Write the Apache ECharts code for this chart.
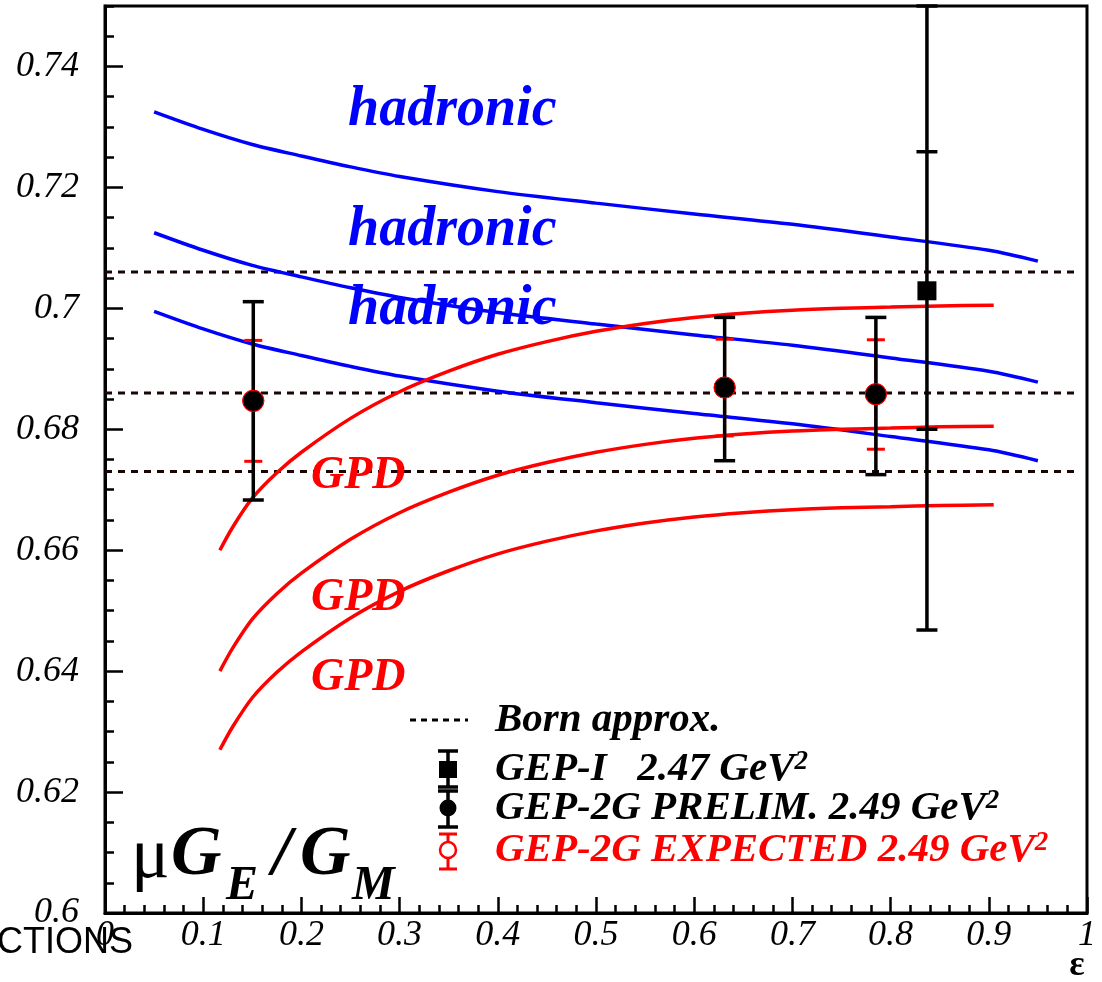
<!DOCTYPE html>
<html>
<head>
<meta charset="utf-8">
<script src="https://cdn.jsdelivr.net/npm/echarts@6/dist/echarts.min.js"></script>
<style>html,body{margin:0;padding:0;background:#fff;}#c{width:1102px;height:982px;}</style>
</head>
<body>
<div id="c"></div>
<script>
// ---- data ----
const epsHad = [0.05, 0.1, 0.15, 0.2, 0.25, 0.3, 0.4, 0.5, 0.6, 0.7, 0.8, 0.9, 0.95];
const hadTop = [0.7325, 0.7296, 0.7271, 0.7252, 0.7234, 0.7218, 0.7193, 0.7174, 0.7156, 0.7139, 0.7118, 0.7096, 0.7078];
const hadMid = [0.7125, 0.7096, 0.7071, 0.7052, 0.7034, 0.7018, 0.6993, 0.6974, 0.6956, 0.6939, 0.6918, 0.6896, 0.6878];
const hadLow = [0.6995, 0.6966, 0.6941, 0.6922, 0.6904, 0.6888, 0.6863, 0.6844, 0.6826, 0.6809, 0.6788, 0.6766, 0.6748];

const epsGpd = [0.117, 0.13, 0.15, 0.175, 0.2, 0.25, 0.3, 0.35, 0.4, 0.45, 0.5, 0.55, 0.6, 0.65, 0.7, 0.75, 0.8, 0.85, 0.905];
const gpdTop = [0.6600, 0.6638, 0.6686, 0.6728, 0.6762, 0.6818, 0.6862, 0.6896, 0.6924, 0.6945, 0.6962, 0.6975, 0.6985, 0.6992, 0.6997, 0.7000, 0.7002, 0.7004, 0.7005];
const gpdMid = [0.6400, 0.6438, 0.6486, 0.6528, 0.6562, 0.6618, 0.6662, 0.6696, 0.6724, 0.6745, 0.6762, 0.6775, 0.6785, 0.6792, 0.6797, 0.6800, 0.6802, 0.6804, 0.6805];
const gpdLow = [0.6270, 0.6308, 0.6356, 0.6398, 0.6432, 0.6488, 0.6532, 0.6566, 0.6594, 0.6615, 0.6632, 0.6645, 0.6655, 0.6662, 0.6667, 0.6670, 0.6672, 0.6674, 0.6675];

const bornVals = [0.706, 0.686, 0.673];
const bornEps = [0.0, 0.99];

const prelimEps = [0.151, 0.631, 0.785];
const prelimVal = [0.6847, 0.6869, 0.6858];
const prelimLo  = [0.6683, 0.6748, 0.6725];
const prelimHi  = [0.7011, 0.6985, 0.6985];
const expLo     = [0.6747, 0.6789, 0.6767];
const expHi     = [0.6947, 0.6949, 0.6948];

const gep1Eps    = [0.837];
const gep1Val    = [0.7029];
const gep1StatLo = [0.6800];
const gep1StatHi = [0.7259];
const gep1TotLo  = [0.6468];
const gep1TotHi  = [0.7590];

const xTicks = [0, 0.1, 0.2, 0.3, 0.4, 0.5, 0.6, 0.7, 0.8, 0.9, 1];
const yTicks = [0.6, 0.62, 0.64, 0.66, 0.68, 0.7, 0.72, 0.74];

const curveLabels = [
  {text: 'hadronic', x: 348, y: 111, color: '#0000ff', size: 56},
  {text: 'hadronic', x: 348, y: 231, color: '#0000ff', size: 56},
  {text: 'hadronic', x: 348, y: 310, color: '#0000ff', size: 56},
  {text: 'GPD', x: 311, y: 476, color: '#ff0000', size: 46},
  {text: 'GPD', x: 311, y: 598, color: '#ff0000', size: 46},
  {text: 'GPD', x: 311, y: 678, color: '#ff0000', size: 46}
];

// ---- helpers ----
const SERIF = '"Liberation Serif", "DejaVu Serif", serif';
const zip = (xs, ys) => xs.map((x, i) => [x, ys[i]]);

function lineSeries(xs, ys, color) {
  return {type: 'line', data: zip(xs, ys), showSymbol: false, smooth: 0.3,
    lineStyle: {color: color, width: 3.5}, z: 3, silent: true};
}

function errRender(capW, color, lw) {
  return function (params, api) {
    const x = api.value(0);
    const cs = params.coordSys;
    const top = cs.y, bot = cs.y + cs.height;
    const clampY = v => Math.max(top, Math.min(bot, v));
    const vals = [];
    for (let k = 1; k < 10; k++) {
      const v = api.value(k);
      if (v === undefined || v === null || isNaN(v)) break;
      vals.push(v);
    }
    const pts = vals.map(v => api.coord([x, v]));
    const ys = pts.map(p => clampY(p[1]));
    const px = pts[0][0];
    const children = [{type: 'line', shape: {x1: px, y1: Math.min(...ys), x2: px, y2: Math.max(...ys)},
      style: {stroke: color, lineWidth: lw}}];
    ys.forEach(y => children.push({type: 'line', shape: {x1: px - capW / 2, y1: y, x2: px + capW / 2, y2: y},
      style: {stroke: color, lineWidth: lw}}));
    return {type: 'group', children: children};
  };
}

const series = [];
series.push(lineSeries(epsHad, hadTop, '#0000ff'));
series.push(lineSeries(epsHad, hadMid, '#0000ff'));
series.push(lineSeries(epsHad, hadLow, '#0000ff'));
series.push(lineSeries(epsGpd, gpdTop, '#ff0000'));
series.push(lineSeries(epsGpd, gpdMid, '#ff0000'));
series.push(lineSeries(epsGpd, gpdLow, '#ff0000'));
bornVals.forEach(v => series.push({type: 'line', data: bornEps.map(e => [e, v]), showSymbol: false,
  lineStyle: {color: '#1a0505', width: 3, type: [7, 6]}, z: 2, silent: true}));

// expected (red) error bars and open circles
series.push({type: 'custom', renderItem: errRender(18, '#ff0000', 3), z: 4, silent: true,
  data: prelimEps.map((e, i) => [e, expLo[i], expHi[i]]), encode: {x: 0, y: [1, 2]}});
series.push({type: 'scatter', symbol: 'circle', symbolSize: 20, z: 5, silent: true,
  itemStyle: {color: '#fff', borderColor: '#ff0000', borderWidth: 2, opacity: 1},
  data: zip(prelimEps, prelimVal)});
// preliminary (black)
series.push({type: 'custom', renderItem: errRender(21, '#000', 3.5), z: 6, silent: true,
  data: prelimEps.map((e, i) => [e, prelimLo[i], prelimHi[i]]), encode: {x: 0, y: [1, 2]}});
series.push({type: 'scatter', symbol: 'circle', symbolSize: 21, z: 7, silent: true,
  itemStyle: {color: '#000', borderColor: '#ff0000', borderWidth: 1, opacity: 1},
  data: zip(prelimEps, prelimVal)});
// GEP-I
series.push({type: 'custom', renderItem: errRender(21, '#000', 3.5), z: 6, silent: true,
  data: gep1Eps.map((e, i) => [e, gep1TotLo[i], gep1TotHi[i], gep1StatLo[i], gep1StatHi[i]]),
  encode: {x: 0, y: [1, 2]}});
series.push({type: 'scatter', symbol: 'rect', symbolSize: 19, z: 7, silent: true,
  itemStyle: {color: '#000', opacity: 1}, data: zip(gep1Eps, gep1Val)});

// ---- graphics (text annotations, legend) ----
const graphic = [];
curveLabels.forEach(c => graphic.push({type: 'text', x: c.x, y: c.y, z: 20,
  style: {text: c.text, fill: c.color, font: 'italic bold ' + c.size + 'px ' + SERIF,
    align: 'left', verticalAlign: 'middle'}}));

// title mu G_E / G_M
const tBig = 'italic bold 70px ' + SERIF, tSub = 'italic bold 48px ' + SERIF;
graphic.push({type: 'text', x: 131, y: 858, z: 20, style: {text: 'μ', fill: '#000', font: '72px ' + SERIF, align: 'left', verticalAlign: 'middle'}});
graphic.push({type: 'text', x: 171, y: 856, z: 20, style: {text: 'G', fill: '#000', font: tBig, align: 'left', verticalAlign: 'middle'}});
graphic.push({type: 'text', x: 226, y: 887, z: 20, style: {text: 'E', fill: '#000', font: tSub, align: 'left', verticalAlign: 'middle'}});
graphic.push({type: 'text', x: 272, y: 856, z: 20, style: {text: '/', fill: '#000', font: tBig, align: 'left', verticalAlign: 'middle'}});
graphic.push({type: 'text', x: 300, y: 856, z: 20, style: {text: 'G', fill: '#000', font: tBig, align: 'left', verticalAlign: 'middle'}});
graphic.push({type: 'text', x: 352, y: 887, z: 20, style: {text: 'M', fill: '#000', font: tSub, align: 'left', verticalAlign: 'middle'}});

// stray text and epsilon axis name
graphic.push({type: 'text', x: 133, y: 943, z: 20, style: {text: 'CTIONS', fill: '#000', font: '36px "Liberation Sans", Arial, sans-serif', align: 'right', verticalAlign: 'middle'}});
graphic.push({type: 'text', x: 1077, y: 966, z: 20, style: {text: 'ε', fill: '#000', font: 'bold 36px ' + SERIF, align: 'center', verticalAlign: 'middle'}});

// legend
const LX = 448, TX = 495;
const legRows = [720, 769, 808, 850];
const legFont = {fontFamily: SERIF, fontStyle: 'italic', fontWeight: 'bold'};
function legText(y, main, sup, color) {
  const rich = {t: Object.assign({fontSize: 41, fill: color}, legFont)};
  let txt = '{t|' + main + '}';
  if (sup) { rich.s = Object.assign({fontSize: 27, fill: color, verticalAlign: 'top'}, legFont); txt += '{s|' + sup + '}'; }
  return {type: 'text', x: TX, y: y, z: 20, style: {text: txt, rich: rich, align: 'left', verticalAlign: 'middle'}};
}
graphic.push({type: 'line', z: 20, shape: {x1: 410, y1: legRows[0], x2: 468, y2: legRows[0]}, style: {stroke: '#000', lineWidth: 3, lineDash: [6, 5]}});
graphic.push(legText(legRows[0], 'Born approx.', null, '#000'));
// GEP-I icon
graphic.push({type: 'line', z: 20, shape: {x1: LX, y1: 751, x2: LX, y2: 787}, style: {stroke: '#000', lineWidth: 3.5}});
graphic.push({type: 'line', z: 20, shape: {x1: LX - 10, y1: 751, x2: LX + 10, y2: 751}, style: {stroke: '#000', lineWidth: 3.5}});
graphic.push({type: 'line', z: 20, shape: {x1: LX - 10, y1: 787, x2: LX + 10, y2: 787}, style: {stroke: '#000', lineWidth: 3.5}});
graphic.push({type: 'rect', z: 21, shape: {x: LX - 9, y: legRows[1] - 8, width: 18, height: 17}, style: {fill: '#000'}});
graphic.push(legText(legRows[1], 'GEP-I   2.47 GeV', '2', '#000'));
// PRELIM icon
graphic.push({type: 'line', z: 20, shape: {x1: LX, y1: 791, x2: LX, y2: 827}, style: {stroke: '#000', lineWidth: 3.5}});
graphic.push({type: 'line', z: 20, shape: {x1: LX - 10, y1: 791, x2: LX + 10, y2: 791}, style: {stroke: '#000', lineWidth: 3.5}});
graphic.push({type: 'line', z: 20, shape: {x1: LX - 10, y1: 827, x2: LX + 10, y2: 827}, style: {stroke: '#000', lineWidth: 3.5}});
graphic.push({type: 'circle', z: 21, shape: {cx: LX, cy: legRows[2], r: 8.5}, style: {fill: '#000'}});
graphic.push(legText(legRows[2], 'GEP-2G PRELIM. 2.49 GeV', '2', '#000'));
// EXPECTED icon
graphic.push({type: 'line', z: 20, shape: {x1: LX, y1: 834, x2: LX, y2: 869}, style: {stroke: '#ff0000', lineWidth: 3}});
graphic.push({type: 'line', z: 20, shape: {x1: LX - 9, y1: 834, x2: LX + 9, y2: 834}, style: {stroke: '#ff0000', lineWidth: 3}});
graphic.push({type: 'line', z: 20, shape: {x1: LX - 9, y1: 869, x2: LX + 9, y2: 869}, style: {stroke: '#ff0000', lineWidth: 3}});
graphic.push({type: 'circle', z: 21, shape: {cx: LX, cy: legRows[3], r: 8}, style: {fill: '#fff', stroke: '#ff0000', lineWidth: 2.5}});
graphic.push(legText(legRows[3], 'GEP-2G EXPECTED 2.49 GeV', '2', '#ff0000'));

const labelFont = {fontFamily: SERIF, fontStyle: 'italic', fontSize: 36, color: '#000'};

const option = {
  animation: false,
  backgroundColor: '#fff',
  grid: {left: 105, right: 15, top: 6, bottom: 69, show: true, borderColor: '#000', borderWidth: 3, backgroundColor: 'transparent'},
  xAxis: [
    {type: 'value', min: xTicks[0], max: xTicks[xTicks.length - 1], interval: 0.1, position: 'bottom',
      axisLine: {show: true, lineStyle: {color: '#000', width: 3}},
      axisTick: {show: true, inside: true, length: 16, lineStyle: {color: '#000', width: 2.5}},
      axisLabel: Object.assign({margin: 5, formatter: v => String(+v.toFixed(2))}, labelFont),
      splitLine: {show: false}},
    {type: 'value', min: 0, max: 1, interval: 0.02, position: 'bottom',
      axisLine: {show: false}, axisLabel: {show: false}, splitLine: {show: false},
      axisTick: {show: true, inside: true, length: 8, lineStyle: {color: '#000', width: 2.5}}}
  ],
  yAxis: [
    {type: 'value', min: yTicks[0], max: 0.75, interval: 0.02, position: 'left',
      axisLine: {show: true, lineStyle: {color: '#000', width: 3}},
      axisTick: {show: true, inside: true, length: 18, lineStyle: {color: '#000', width: 2.5}},
      axisLabel: Object.assign({margin: 26, showMaxLabel: false,
        formatter: v => (yTicks.some(t => Math.abs(t - v) < 1e-6) ? String(+v.toFixed(2)) : '')}, labelFont),
      splitLine: {show: false}},
    {type: 'value', min: 0.6, max: 0.75, interval: 0.005, position: 'left', offset: 0,
      axisLine: {show: false}, axisLabel: {show: false}, splitLine: {show: false},
      axisTick: {show: true, inside: true, length: 9, lineStyle: {color: '#000', width: 2.5}}}
  ],
  series: series,
  graphic: graphic
};

const chart = echarts.init(document.getElementById('c'), null, {renderer: 'canvas'});
chart.setOption(option);
</script>
</body>
</html>
